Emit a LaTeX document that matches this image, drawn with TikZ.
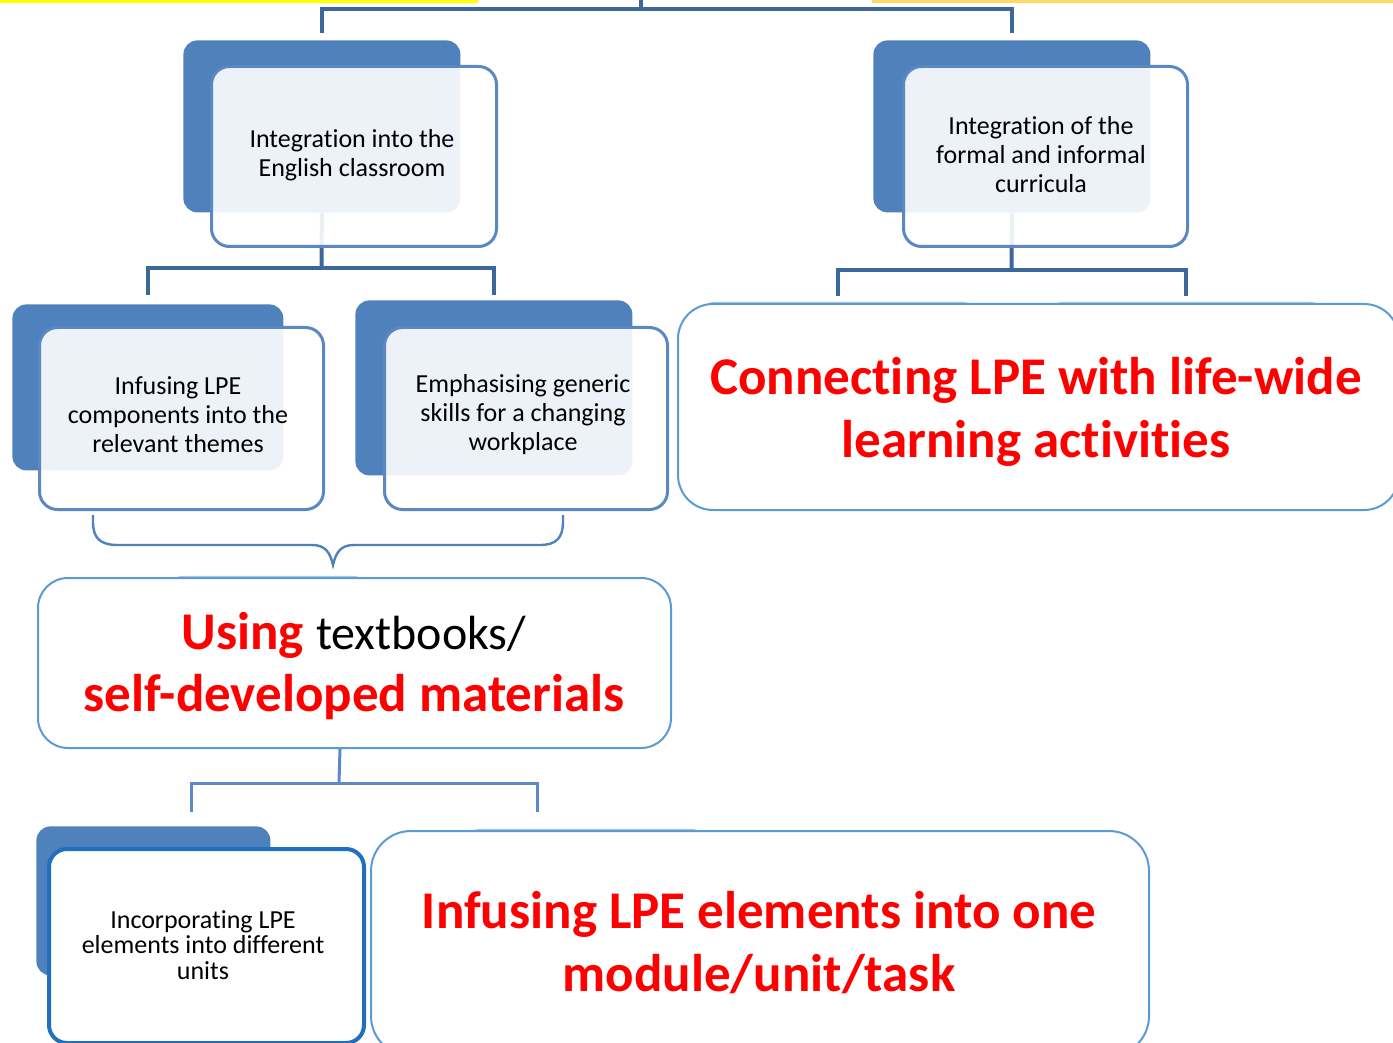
\documentclass[tikz,border=0pt]{standalone}
\usepackage{fontspec}
\setmainfont{Carlito}[Ligatures=NoCommon]
\definecolor{backblue}{HTML}{4F81BD}
\definecolor{frameblue}{HTML}{5A88C2}
\definecolor{lineblue}{HTML}{3D6699}
\definecolor{lightline}{HTML}{5B8AC6}
\definecolor{bigblue}{HTML}{5B9BD5}
\definecolor{deepblue}{HTML}{1F70BF}
\definecolor{txtred}{HTML}{FF0000}
\definecolor{barA}{HTML}{FFFF00}
\definecolor{barB}{HTML}{FFD966}
\tikzset{
  backbox/.style={rectangle, rounded corners=7pt, fill=backblue, draw=none,
    anchor=north west, inner sep=0pt},
  hiddenbox/.style={rectangle, rounded corners=7pt, fill=backblue, fill opacity=0.45,
    draw=none, anchor=north west, inner sep=0pt},
  frontbox/.style={rectangle, rounded corners=9pt, draw=frameblue, line width=1.5pt,
    fill=white, fill opacity=0.9, anchor=north west, inner sep=0pt},
  bigbox/.style={rectangle, rounded corners=17.5pt, draw=bigblue, line width=1pt,
    fill=white, anchor=north west, inner sep=0pt},
  conn/.style={draw=lineblue, line width=2pt, line join=miter},
  connlight/.style={draw=lightline, line width=1.5pt, line join=miter},
  smalltxt/.style={align=center, inner sep=0pt, text=black,
    font=\fontsize{13}{14.5}\selectfont},
  smalltxtb/.style={align=center, inner sep=0pt, text=black,
    font=\fontsize{13}{12.8}\selectfont},
  bigtxt/.style={align=center, inner sep=0pt, text=txtred,
    font=\fontsize{26.5}{31.5}\selectfont\bfseries},
}
\begin{document}
\begin{tikzpicture}[x=0.5pt, y=-0.5pt]
\useasboundingbox (0,0) rectangle (1393,1043);
\clip (0,0) rectangle (1393,1043);

% coloured rules along the top edge
\fill[barA] (0,0) rectangle (478,3);
\fill[barB] (872,0) rectangle (1393,3);

% back plates
\node[backbox, minimum width=138.5pt, minimum height=86pt] (b1back) at (183,40) {};
\node[backbox, minimum width=138.5pt, minimum height=86pt] (b4back) at (873,40) {};
\node[backbox, minimum width=135.5pt, minimum height=83pt] (b2back) at (12,304) {};
\node[backbox, minimum width=138.5pt, minimum height=87.5pt] (b3back) at (355,300) {};
\node[backbox, minimum width=117pt, minimum height=74.5pt] (b5back) at (36,826) {};
% plates hidden behind the large boxes (only a sliver shows)
\node[hiddenbox, minimum width=138pt, minimum height=75pt] (c1back) at (700,301.5) {};
\node[hiddenbox, minimum width=138pt, minimum height=75pt] (c2back) at (1048,301.5) {};
\node[hiddenbox, minimum width=99.5pt, minimum height=86.5pt] (uback) at (168,575.5) {};
\node[hiddenbox, minimum width=120pt, minimum height=75pt] (mback) at (465,828.5) {};

% top tree
\coordinate (root) at (641,0);
\coordinate (rootbar) at (641,9);
\draw[conn] (root) -- (rootbar);
\draw[conn] ([yshift=3.5pt]b1back.north) |- (rootbar);
\draw[conn] ([yshift=3.5pt]b4back.north) |- (rootbar);

% tree below the English classroom box
\coordinate (j1) at (321.5,268);
\draw[conn] (b1back.south) -- (j1);
\draw[conn] ([yshift=4.5pt]b2back.north) |- (j1);
\draw[conn] ([yshift=2.5pt]b3back.north) |- (j1);

% tree below the curricula box
\coordinate (j2) at (1011.5,270);
\draw[conn] (b4back.south) -- (j2);
\draw[conn] ([yshift=2.5pt]c1back.north) |- (j2);
\draw[conn] ([yshift=2.5pt]c2back.north) |- (j2);

% front boxes
\node[frontbox, minimum width=142.5pt, minimum height=90pt] (b1) at (210,65) {};
\node[frontbox, minimum width=142pt, minimum height=90pt] (b4) at (902,65) {};
\node[frontbox, minimum width=142pt, minimum height=91pt] (b2) at (38,326) {};
\node[frontbox, minimum width=141.5pt, minimum height=91pt] (b3) at (383,326) {};
\node[frontbox, draw=deepblue, line width=2pt, fill opacity=1,
  minimum width=157.5pt, minimum height=97pt] (b5) at (47,847) {};

% large boxes
\node[bigbox, minimum width=360.5pt, minimum height=103pt] (conn) at (677,303) {};
\node[bigbox, rounded corners=15pt, minimum width=316.5pt, minimum height=85pt] (using) at (37,577) {};
\node[bigbox, rounded corners=20pt, minimum width=389pt, minimum height=112.5pt] (module) at (370,830) {};

% brace joining the two theme boxes
\draw[draw=backblue, line width=1.2pt]
  (93,515) -- (93,522) .. controls (93,538) and (100,545) .. (118,545)
  -- (312,545) .. controls (325,545) and (330,552) .. (333,565)
  .. controls (336,552) and (341,545) .. (354,545)
  -- (540,545) .. controls (556,545) and (563,538) .. (563,522) -- (563,515);

% tree below the materials box
\coordinate (j3) at (339,783);
\coordinate (u1) at (191,812);
\coordinate (u2) at (537,812);
\draw[connlight] ([xshift=-7.25pt]using.south) -- (j3);
\draw[connlight] (u1) |- (j3);
\draw[connlight] (u2) |- (j3);

% labels
\node[smalltxt] (t1) at (352,155) {Integration into the\\English classroom};
\node[smalltxt] (t4) at (1041,155) {Integration of the\\formal and informal\\curricula};
\node[smalltxt] (t2) at (178,415) {Infusing LPE\\components into the\\relevant themes};
\node[smalltxt] (t3) at (523,415) {Emphasising generic\\skills for a changing\\workplace};
\node[smalltxtb] (t5) at (203,945) {Incorporating LPE\\elements into different\\units};
\node[bigtxt] (tc) at (1036,412) {Connecting LPE with life-wide\\learning activities};
\node[bigtxt, font=\fontsize{26.5}{31}\selectfont\bfseries] (tu) at (354,666)
  {Using {\mdseries\fontsize{24}{31}\selectfont\color{black}textbooks/}\\self-developed materials};
\node[bigtxt] (tm) at (759,943) {Infusing LPE elements into one\\module/unit/task};
\end{tikzpicture}
\end{document}
